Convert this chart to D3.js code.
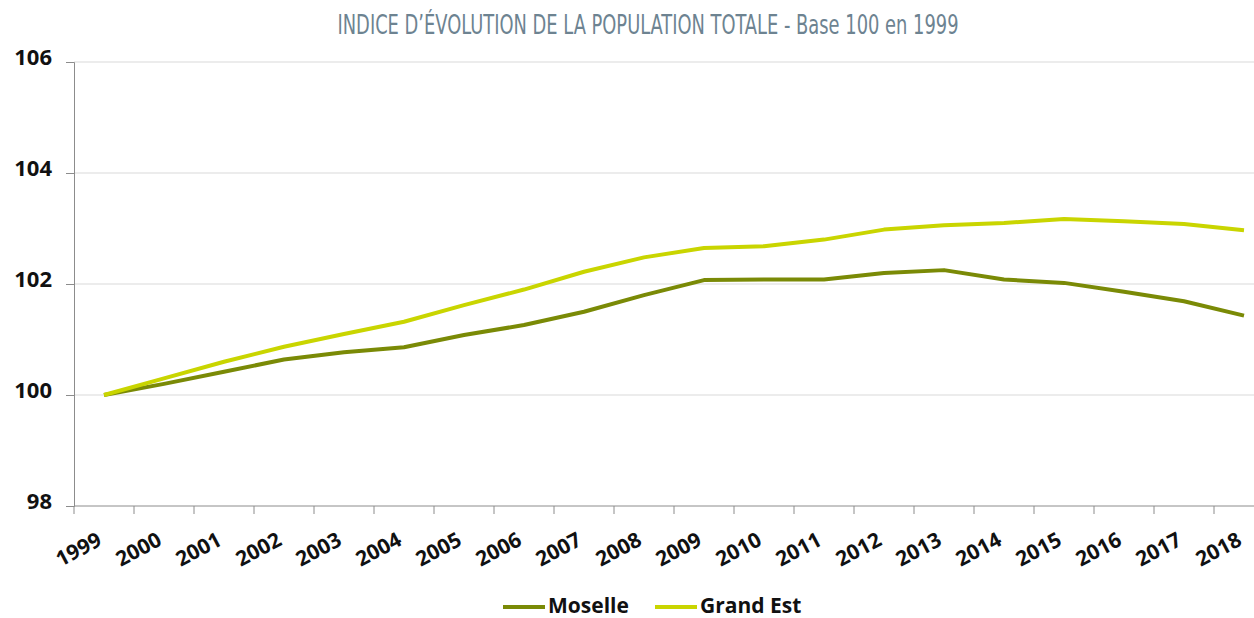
<!DOCTYPE html>
<html>
<head>
<meta charset="utf-8">
<script src="https://cdn.jsdelivr.net/npm/d3@7"></script>
<style>
  body { margin: 0; background: #fff; }
  .chart { width: 1254px; height: 618px; overflow: hidden; }
  .axis text { font-family: "Open Sans", "Noto Sans", sans-serif; font-weight: 700; fill: #111; }
</style>
</head>
<body>
<div class="chart"></div>
<script>
/* DATA */
var years = ["1999", "2000", "2001", "2002", "2003", "2004", "2005", "2006", "2007", "2008",
             "2009", "2010", "2011", "2012", "2013", "2014", "2015", "2016", "2017", "2018"];
var moselle = [100, 100.2, 100.42, 100.64, 100.77, 100.86, 101.08, 101.26, 101.5, 101.8,
               102.07, 102.08, 102.08, 102.2, 102.25, 102.08, 102.02, 101.86, 101.69, 101.43];
var grandEst = [100, 100.3, 100.6, 100.87, 101.1, 101.32, 101.62, 101.9, 102.22, 102.48,
                102.65, 102.68, 102.8, 102.98, 103.06, 103.1, 103.17, 103.13, 103.08, 102.97];
var yTicks = [98, 100, 102, 104, 106];
var seriesNames = ["Moselle", "Grand Est"];
var seriesColors = ["#7a8a06", "#c9d500"];

var target = document.querySelector(".chart");
var width = 1254, height = 618;

// plot area (right side runs past the frame like the source)
var x0 = 74, x1 = 1274, yTop = 62, yBottom = 506;

var xScale = d3.scaleBand().domain(years).range([x0, x1]);
var yScale = d3.scaleLinear().domain([98, 106]).range([yBottom, yTop]);

var svg = d3.select(target).append("svg")
    .attr("width", width)
    .attr("height", height);

// title
svg.append("text")
    .attr("x", 648)
    .attr("y", 34)
    .attr("text-anchor", "middle")
    .attr("font-family", "'Liberation Sans Narrow', 'DejaVu Sans Condensed', sans-serif")
    .attr("font-size", 27)
    .attr("fill", "#6d8391")
    .attr("textLength", 621)
    .attr("lengthAdjust", "spacingAndGlyphs")
    .text("INDICE D\u2019\u00c9VOLUTION DE LA POPULATION TOTALE - Base 100 en 1999");

// gridlines
svg.append("g")
    .selectAll("line")
    .data(yTicks.slice(1))
    .enter().append("line")
    .attr("x1", x0).attr("x2", x1)
    .attr("y1", function(d) { return yScale(d); })
    .attr("y2", function(d) { return yScale(d); })
    .attr("stroke", "#d9d9d9")
    .attr("stroke-width", 1);

// y axis
var yAxis = svg.append("g")
    .attr("class", "axis y")
    .attr("transform", "translate(" + x0 + ",0)")
    .call(d3.axisLeft(yScale).tickValues(yTicks).tickSize(8).tickPadding(14));
yAxis.selectAll("text").attr("font-size", 22).attr("dy", "0.1em");
yAxis.selectAll("line, path").attr("stroke", "#8c8c8c");

// x axis: ticks between the years
var xAxis = svg.append("g")
    .attr("class", "axis x")
    .attr("transform", "translate(0," + yBottom + ")");
xAxis.append("line")
    .attr("x1", x0).attr("x2", x1)
    .attr("stroke", "#8c8c8c");
xAxis.selectAll(".tk")
    .data(years)
    .enter().append("line")
    .attr("class", "tk")
    .attr("x1", function(d) { return xScale(d); })
    .attr("x2", function(d) { return xScale(d); })
    .attr("y1", 0).attr("y2", 8)
    .attr("stroke", "#8c8c8c");
xAxis.selectAll(".lbl")
    .data(years)
    .enter().append("text")
    .attr("class", "lbl")
    .attr("font-size", 21)
    .attr("text-anchor", "end")
    .attr("transform", function(d) {
        return "translate(" + (xScale(d) + xScale.bandwidth() / 2 - 8) + ",25) rotate(-28)";
    })
    .attr("dy", "0.72em")
    .text(function(d) { return d; });

// lines
var line = d3.line()
    .x(function(d, i) { return xScale(years[i]) + xScale.bandwidth() / 2; })
    .y(function(d) { return yScale(d); });

[moselle, grandEst].forEach(function(s, i) {
    svg.append("path")
        .datum(s)
        .attr("fill", "none")
        .attr("stroke", seriesColors[i])
        .attr("stroke-width", 4)
        .attr("stroke-linejoin", "round")
        .attr("d", line);
});

// legend
var legendX = [503, 655];
var legend = svg.append("g").attr("class", "axis legend");
seriesNames.forEach(function(name, i) {
    legend.append("line")
        .attr("x1", legendX[i]).attr("x2", legendX[i] + 42)
        .attr("y1", 607).attr("y2", 607)
        .attr("stroke", seriesColors[i])
        .attr("stroke-width", 4);
    legend.append("text")
        .attr("x", legendX[i] + 45)
        .attr("y", 613)
        .attr("font-size", 21)
        .text(name);
});
</script>
</body>
</html>
